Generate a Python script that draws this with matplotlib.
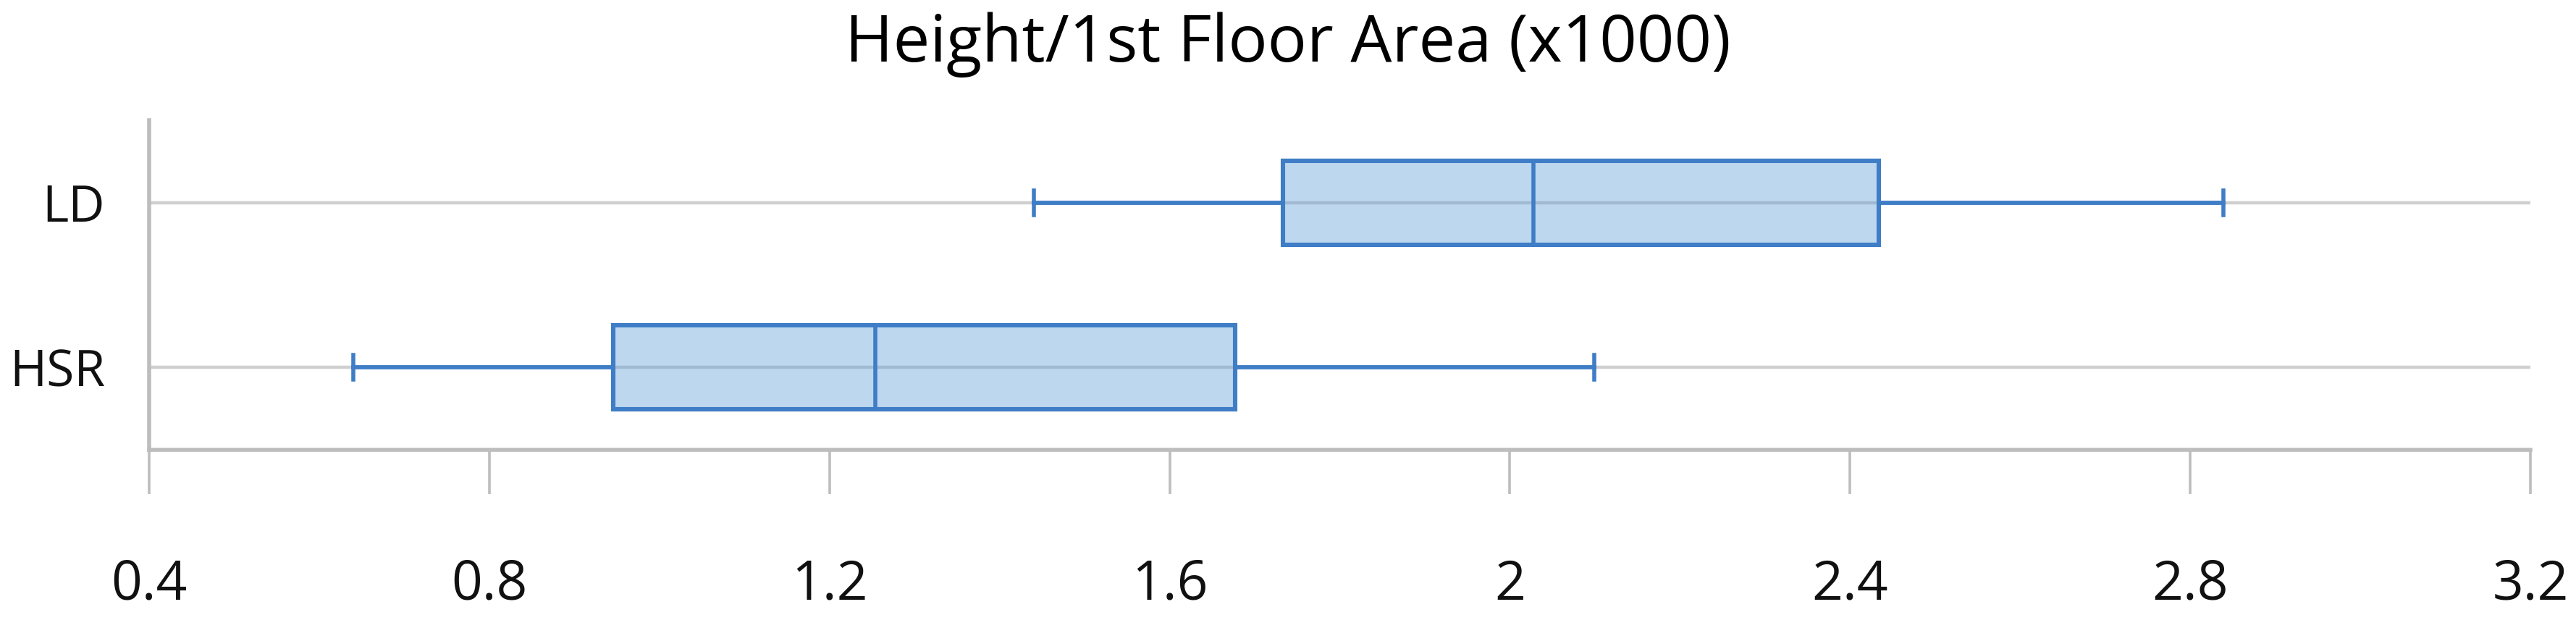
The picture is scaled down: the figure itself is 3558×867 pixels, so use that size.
import matplotlib
matplotlib.use("Agg")
import matplotlib.pyplot as plt

# Box plot summary values (x1000)
groups = ["LD", "HSR"]
whisker_low = [1.440, 0.640]
q1 = [1.733, 0.946]
median = [2.028, 1.254]
q3 = [2.434, 1.677]
whisker_high = [2.839, 2.099]

tick_vals = [0.4, 0.8, 1.2, 1.6, 2.0, 2.4, 2.8, 3.2]
tick_labels = ["0.4", "0.8", "1.2", "1.6", "2", "2.4", "2.8", "3.2"]

plt.rcParams["font.family"] = ["Open Sans", "DejaVu Sans"]

edge = "#3F7DC6"
grey = "#BDBDBD"

fig = plt.figure(figsize=(35.58, 8.67), dpi=100)
ax = fig.add_axes([206 / 3558, (867 - 621) / 867, (3495 - 206) / 3558, (621 - 166) / 867])

stats = []
for i in range(len(groups)):
    stats.append({"label": groups[i], "whislo": whisker_low[i], "q1": q1[i],
                  "med": median[i], "q3": q3[i], "whishi": whisker_high[i],
                  "fliers": []})

positions = [1, 0]
ax.bxp(stats, positions=positions, orientation="horizontal", widths=0.51,
       capwidths=0.15, patch_artist=True, showfliers=False,
       boxprops=dict(facecolor=(0.36, 0.61, 0.85, 0.4), edgecolor=edge, linewidth=4.4),
       medianprops=dict(color=edge, linewidth=4.0),
       whiskerprops=dict(color=edge, linewidth=4.2),
       capprops=dict(color=edge, linewidth=4.0))

ax.set_xlim(0.4, 3.2)
ax.set_ylim(-0.5, 1.5)
ax.set_xticks(tick_vals)
ax.set_xticklabels(tick_labels, fontsize=54)
ax.set_yticks(positions)
ax.set_yticklabels(groups, fontsize=50)

ax.set_axisbelow(True)
ax.grid(axis="y", color="#CFCFCF", linewidth=3.2)
ax.grid(axis="x", visible=False)

for s in ["top", "right"]:
    ax.spines[s].set_visible(False)
for s in ["left", "bottom"]:
    ax.spines[s].set_color(grey)
    ax.spines[s].set_linewidth(4.0)

ax.tick_params(axis="x", direction="out", length=44, width=2.6, color=grey,
               pad=64, labelcolor="#111111")
ax.tick_params(axis="y", length=0, pad=44, labelcolor="#111111")

fig.suptitle("Height/1st Floor Area (x1000)", x=0.5, y=1 - 62 / 867, va="center",
             fontsize=65, color="black")

fig.savefig("out.png", dpi=100, facecolor="white")
